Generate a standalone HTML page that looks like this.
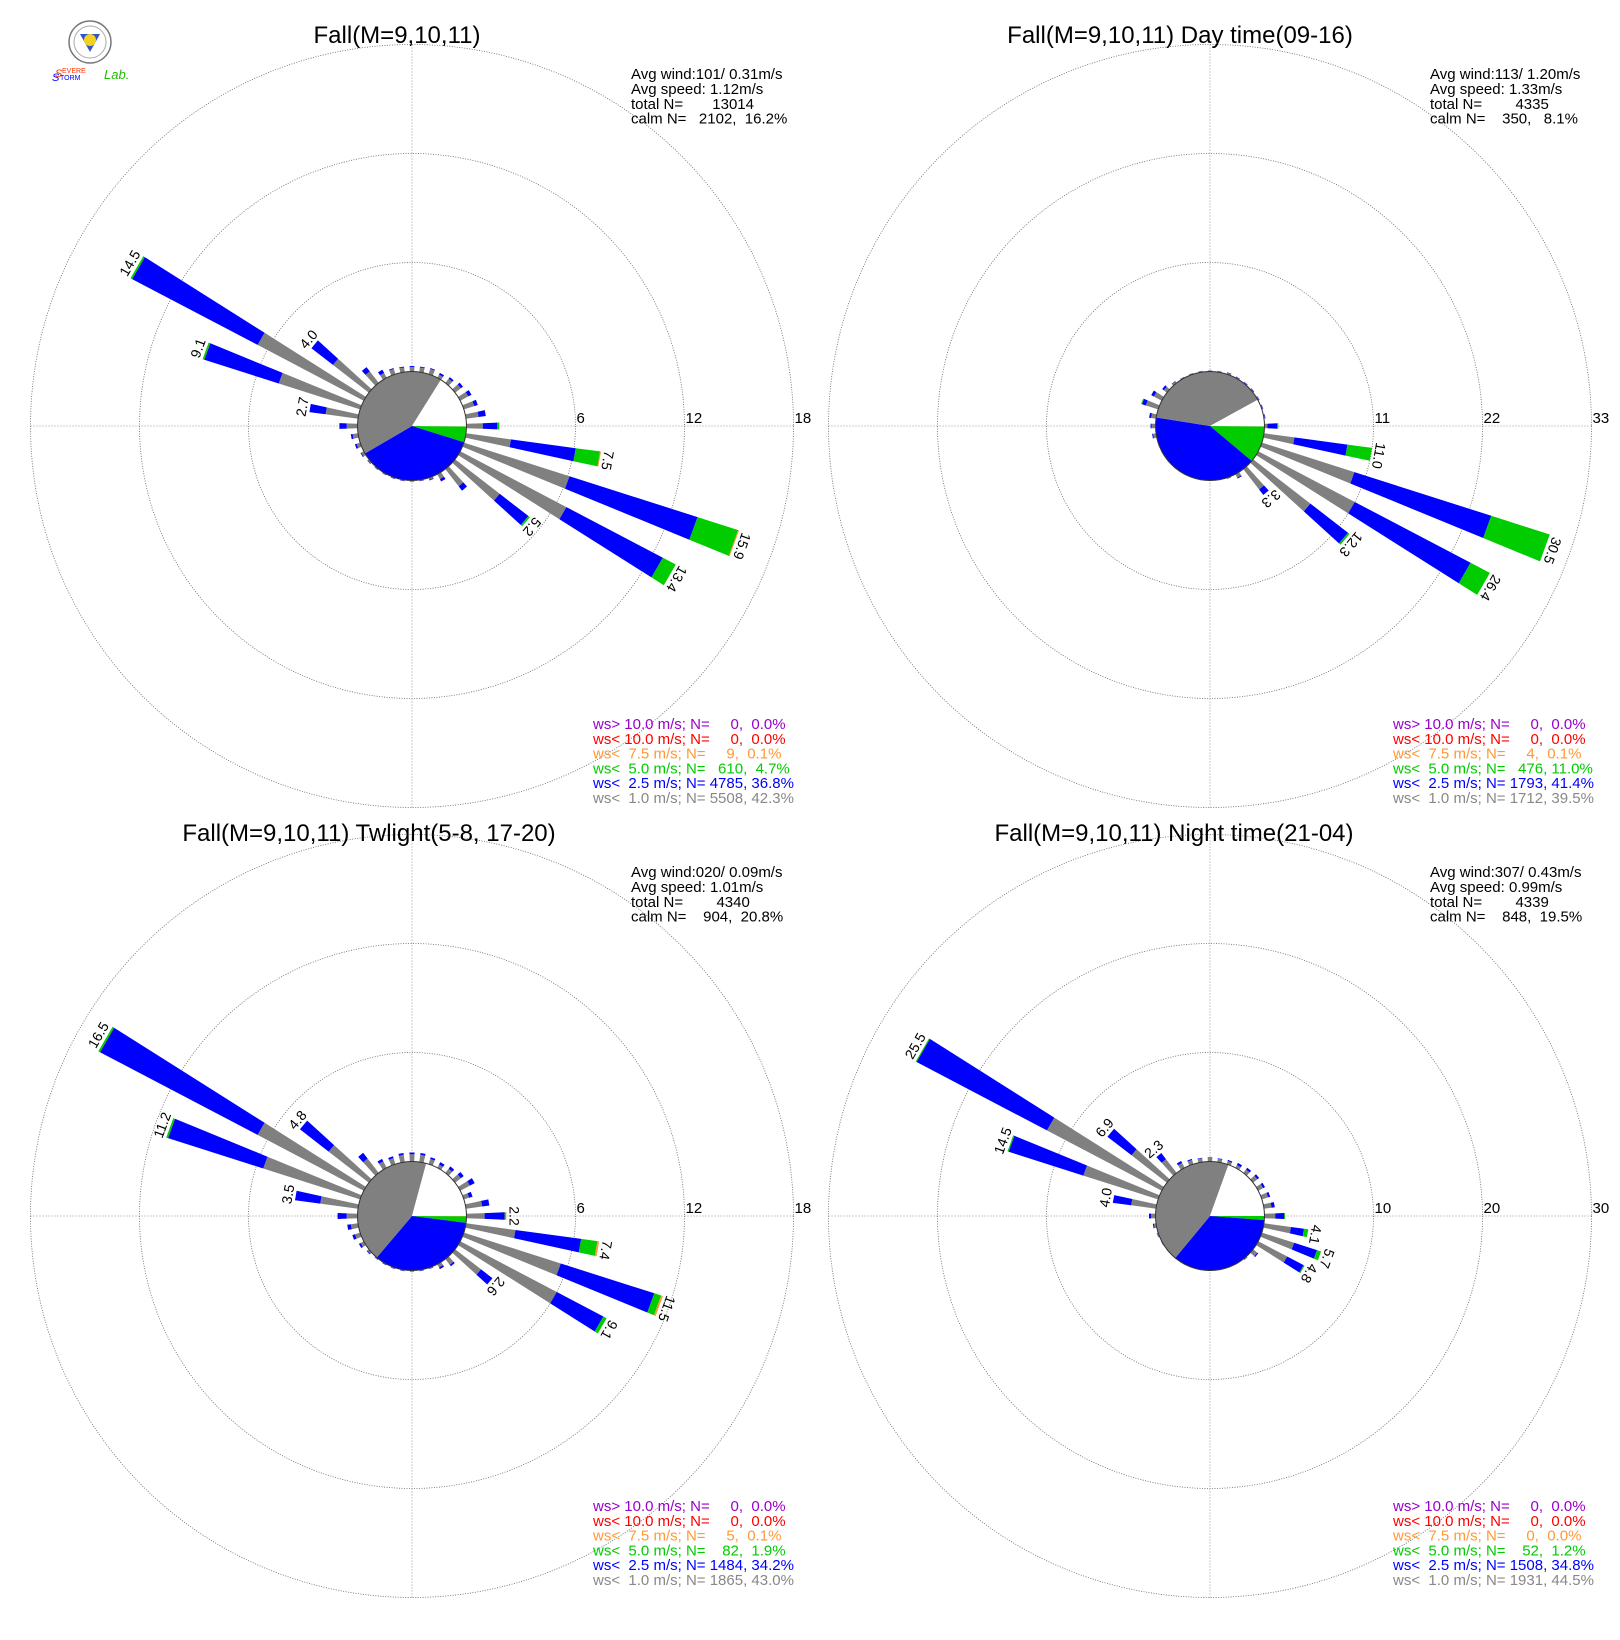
<!DOCTYPE html>
<html><head><meta charset="utf-8"><title>Wind rose</title>
<style>
html,body{margin:0;padding:0;background:#fff;}
svg{display:block;font-family:"Liberation Sans",sans-serif;}
</style></head>
<body>
<svg id="chart" width="1620" height="1640" viewBox="0 0 1620 1640" xmlns="http://www.w3.org/2000/svg">
<g>
<circle cx="90" cy="42" r="21" fill="#fff" stroke="#777" stroke-width="1.5"/>
<circle cx="90" cy="42" r="16" fill="none" stroke="#aaa" stroke-width="1"/>
<polygon points="80,34 100,34 90,52" fill="#3355cc"/>
<circle cx="90" cy="40" r="6" fill="#f4d020"/>
<text x="55" y="77" font-size="11" font-style="italic" fill="#ff3300">S</text>
<text x="52" y="81" font-size="11" font-style="italic" fill="#0000ff">S</text>
<text x="62" y="73" font-size="7" fill="#ff3300">EVERE</text>
<text x="60" y="80" font-size="7" fill="#0000ff">TORM</text>
<text x="104" y="79" font-size="13" font-style="italic" fill="#22bb00">Lab.</text>
</g>
</svg>
<script>
// ---- data: segment lengths (%) per 10-degree direction, 0..350 ----
const directions = [0,10,20,30,40,50,60,70,80,90,100,110,120,130,140,150,160,170,180,190,200,210,220,230,240,250,260,270,280,290,300,310,320,330,340,350];
const p1Gray   = [0.25,0.25,0.3,0.2,0.3,0.4,0.5,0.6,0.7,0.9,2.5,6.1,6.6,3.1,1.2,0.3,0.1,0.05,0.05,0.05,0.05,0.05,0.05,0.08,0.15,0.2,0.3,0.6,1.8,4.7,6.6,2.5,0.8,0.3,0.3,0.25];
const p1Blue   = [0.05,0.05,0.05,0.1,0.1,0.15,0.2,0.2,0.4,0.8,3.6,7.4,6.0,2.0,0.3,0.15,0.05,0.02,0.02,0.02,0.02,0.02,0.02,0.03,0.05,0.1,0.1,0.4,0.9,4.3,7.8,1.5,0.3,0.2,0.05,0.05];
const p1Green  = [0,0,0,0,0,0,0,0,0,0.1,1.35,2.35,0.8,0.1,0,0,0,0,0,0,0,0,0,0,0,0,0,0,0,0.1,0.1,0,0,0,0,0];
const p1Orange = [0,0,0,0,0,0,0,0,0,0.02,0.05,0.05,0,0,0,0,0,0,0,0,0,0,0,0,0,0,0,0,0,0,0,0,0,0,0,0];
const p2Gray   = [0.1,0.1,0.15,0.1,0.1,0.1,0.1,0.1,0.1,0.3,3.1,9.8,11.0,7.3,2.6,0.4,0.1,0.05,0.05,0.05,0.05,0.05,0.05,0.05,0.05,0.05,0.3,0.4,0.5,1.3,0.9,0.4,0.2,0.1,0.1,0.1];
const p2Blue   = [0.02,0.02,0.05,0.05,0.05,0.05,0.05,0.05,0.05,1.0,5.4,14.5,13.2,4.8,0.7,0.1,0.02,0,0,0,0,0,0,0,0,0,0.1,0.1,0.2,0.4,0.3,0.2,0.05,0.02,0.02,0.02];
const p2Green  = [0,0,0,0,0,0,0,0,0,0.1,2.5,6.2,2.2,0.2,0,0,0,0,0,0,0,0,0,0,0,0,0,0,0,0.1,0,0,0,0,0,0];
const p2Orange = [0,0,0,0,0,0,0,0,0,0,0,0,0,0,0,0,0,0,0,0,0,0,0,0,0,0,0,0,0,0,0,0,0,0,0,0];
const p3Gray   = [0.4,0.4,0.3,0.2,0.3,0.4,0.6,0.3,0.9,1.0,2.75,5.6,6.0,1.8,0.4,0.2,0.05,0.05,0.05,0.05,0.05,0.05,0.05,0.1,0.2,0.3,0.4,0.6,2.1,5.6,6.6,2.8,1.0,0.4,0.35,0.4];
const p3Blue   = [0.1,0.1,0.1,0.15,0.15,0.2,0.3,0.2,0.4,1.1,3.65,5.4,2.9,0.8,0.1,0.1,0.02,0.02,0.02,0.02,0.02,0.02,0.02,0.05,0.1,0.15,0.2,0.5,1.4,5.5,9.8,2.0,0.4,0.15,0.1,0.1];
const p3Green  = [0,0,0,0,0,0,0,0,0,0.05,0.9,0.4,0.2,0,0,0,0,0,0,0,0,0,0,0,0,0,0,0,0,0.1,0.1,0,0,0,0,0];
const p3Orange = [0,0,0,0,0,0,0,0,0,0.05,0.1,0.1,0,0,0,0,0,0,0,0,0,0,0,0,0,0,0,0,0,0,0,0,0,0,0,0];
const p4Gray   = [0.35,0.3,0.3,0.3,0.4,0.5,0.5,0.6,0.7,1.0,2.5,3.1,3.0,0.5,0.1,0.05,0.05,0.05,0.05,0.05,0.05,0.05,0.05,0.05,0.05,0.1,0.2,0.4,2.3,7.2,11.9,4.1,1.6,0.5,0.4,0.35];
const p4Blue   = [0.05,0.05,0.1,0.2,0.2,0.2,0.2,0.2,0.3,0.8,1.2,2.2,1.7,0.1,0.02,0,0,0,0,0,0,0,0,0,0.02,0.03,0.1,0.2,1.7,7.2,13.5,2.8,0.7,0.2,0.1,0.05];
const p4Green  = [0,0,0,0,0,0,0,0,0,0.1,0.4,0.4,0.1,0,0,0,0,0,0,0,0,0,0,0,0,0,0,0,0,0.1,0.1,0,0,0,0,0];
const p4Orange = [0,0,0,0,0,0,0,0,0,0,0,0,0,0,0,0,0,0,0,0,0,0,0,0,0,0,0,0,0,0,0,0,0,0,0,0];
// pie percentages: orange, green, blue, gray, calm
const p1Pie = [0.1,4.7,36.8,42.3,16.2];
const p2Pie = [0.1,11.0,41.4,39.5,8.1];
const p3Pie = [0.1,1.9,34.2,43.0,20.8];
const p4Pie = [0.0,1.2,34.8,44.5,19.5];
const p1Ticks = [6,12,18];
const p2Ticks = [11,22,33];
const p3Ticks = [6,12,18];
const p4Ticks = [10,20,30];
const p1Title = "Fall(M=9,10,11)";
const p2Title = "Fall(M=9,10,11) Day time(09-16)";
const p3Title = "Fall(M=9,10,11) Twlight(5-8, 17-20)";
const p4Title = "Fall(M=9,10,11) Night time(21-04)";
const p1Info = ["Avg wind:101/ 0.31m/s","Avg speed: 1.12m/s","total N=       13014","calm N=   2102,  16.2%"];
const p2Info = ["Avg wind:113/ 1.20m/s","Avg speed: 1.33m/s","total N=        4335","calm N=    350,   8.1%"];
const p3Info = ["Avg wind:020/ 0.09m/s","Avg speed: 1.01m/s","total N=        4340","calm N=    904,  20.8%"];
const p4Info = ["Avg wind:307/ 0.43m/s","Avg speed: 0.99m/s","total N=        4339","calm N=    848,  19.5%"];
const legendLabels = ["ws> 10.0 m/s; N=","ws< 10.0 m/s; N=","ws<  7.5 m/s; N=","ws<  5.0 m/s; N=","ws<  2.5 m/s; N=","ws<  1.0 m/s; N="];
const p1Legend = ["    0,  0.0%","    0,  0.0%","    9,  0.1%","  610,  4.7%","4785, 36.8%","5508, 42.3%"];
const p2Legend = ["    0,  0.0%","    0,  0.0%","    4,  0.1%","  476, 11.0%","1793, 41.4%","1712, 39.5%"];
const p3Legend = ["    0,  0.0%","    0,  0.0%","    5,  0.1%","   82,  1.9%","1484, 34.2%","1865, 43.0%"];
const p4Legend = ["    0,  0.0%","    0,  0.0%","    0,  0.0%","   52,  1.2%","1508, 34.8%","1931, 44.5%"];

const legendColors = ["#9900cc","#ff0000","#ff9933","#00cc00","#0000ff","#888888"];
const segColors = ["#808080","#0000ff","#00cc00","#ff9933"];
const pieColors = ["#ff9933","#00cc00","#0000ff","#808080","#ffffff"];
const NS = "http://www.w3.org/2000/svg";
const svg = document.getElementById('chart');
function mk(tag, attrs, parent){const e=document.createElementNS(NS,tag);for(const k in attrs)e.setAttribute(k,attrs[k]);(parent||svg).appendChild(e);return e;}

const panels = [
 {id:'p1',cx:412,cy:426,ticks:p1Ticks,segs:[p1Gray,p1Blue,p1Green,p1Orange],pie:p1Pie,title:p1Title,tx:397,ty:43,info:p1Info,ix:631,iy:79,legend:p1Legend,lx:593,ly:729},
 {id:'p2',cx:1210,cy:426,ticks:p2Ticks,segs:[p2Gray,p2Blue,p2Green,p2Orange],pie:p2Pie,title:p2Title,tx:1180,ty:43,info:p2Info,ix:1430,iy:79,legend:p2Legend,lx:1393,ly:729},
 {id:'p3',cx:412,cy:1216,ticks:p3Ticks,segs:[p3Gray,p3Blue,p3Green,p3Orange],pie:p3Pie,title:p3Title,tx:369,ty:841,info:p3Info,ix:631,iy:877,legend:p3Legend,lx:593,ly:1511},
 {id:'p4',cx:1210,cy:1216,ticks:p4Ticks,segs:[p4Gray,p4Blue,p4Green,p4Orange],pie:p4Pie,title:p4Title,tx:1174,ty:841,info:p4Info,ix:1430,iy:877,legend:p4Legend,lx:1393,ly:1511}
];
const R0 = 54.5, RING = 109, HALF = 2.3;

panels.forEach(function(P){
  const g = mk('g',{});
  
  
  const maxT = P.ticks[P.ticks.length-1];
  const pxPer = RING / P.ticks[0];
  function rScale(v){return R0 + v*pxPer;}
  function pt(a, r){const t=a*Math.PI/180;return [P.cx + r*Math.sin(t), P.cy - r*Math.cos(t)];}
  const outer = rScale(maxT);
  const ax1 = mk('line',{x1:P.cx-outer,y1:P.cy,x2:P.cx+outer,y2:P.cy,stroke:'#999','stroke-width':1,'stroke-dasharray':'1,2'},g);
  
  
  const ax2 = mk('line',{x1:P.cx,y1:P.cy-outer,x2:P.cx,y2:P.cy+outer,stroke:'#999','stroke-width':1,'stroke-dasharray':'1,2'},g);
  
  
  P.ticks.forEach(function(t){
    const c = mk('circle',{cx:P.cx,cy:P.cy,r:rScale(t),fill:'none',stroke:'#666','stroke-width':0.8,'stroke-dasharray':'1,1.5'},g);
    
    
    const tl = mk('text',{x:P.cx+rScale(t)+1,y:P.cy-3,'font-size':15,fill:'#000'},g);
    tl.textContent = t;
    
    
  });
  directions.forEach(function(a, i){
    let acc = 0;
    P.segs.forEach(function(arr, s){
      const v = arr[i];
      if(!(v>0)) return;
      const r1 = rScale(acc), r2 = rScale(acc+v);
      acc += v;
      const A=pt(a-HALF,r1),B=pt(a+HALF,r1),C=pt(a+HALF,r2),D=pt(a-HALF,r2);
      const poly = mk('polygon',{points:[A,B,C,D].map(p=>p[0].toFixed(1)+','+p[1].toFixed(1)).join(' '),fill:segColors[s]},g);
      
      
    });
    if(acc >= 2.0){
      const p = pt(a, rScale(acc)+3);
      const lb = mk('text',{x:p[0].toFixed(1),y:p[1].toFixed(1),'font-size':14,'text-anchor':'middle',fill:'#000',transform:'rotate('+a+' '+p[0].toFixed(1)+' '+p[1].toFixed(1)+')'},g);
      lb.textContent = (Math.round(acc*10+1e-6)/10).toFixed(1);
      
      
    }
  });
  let start = 90;
  P.pie.forEach(function(v, k){
    if(!(v>0)) return;
    const sweep = v*3.6;
    const a1=start, a2=start+sweep;
    const p1=pt(a1,R0), p2=pt(a2,R0);
    const large = sweep>180?1:0;
    const path = mk('path',{d:'M'+P.cx+','+P.cy+' L'+p1[0].toFixed(2)+','+p1[1].toFixed(2)+' A'+R0+','+R0+' 0 '+large+' 1 '+p2[0].toFixed(2)+','+p2[1].toFixed(2)+' Z',fill:pieColors[k]},g);
    
    
    start = a2;
  });
  const calm = mk('circle',{cx:P.cx,cy:P.cy,r:R0,fill:'none',stroke:'#333','stroke-width':1},g);
  
  
  const tt = mk('text',{x:P.tx,y:P.ty,'font-size':24,'text-anchor':'middle',fill:'#000'},g);
  tt.textContent = P.title;
  
  
  P.info.forEach(function(s, k){
    const it = mk('text',{x:P.ix,y:P.iy+k*14.9,'font-size':15,fill:'#000'},g);
    it.setAttribute('style','white-space:pre');
    it.textContent = s;
    
    
  });
  legendLabels.forEach(function(s, k){
    const lt = mk('text',{x:P.lx,y:P.ly+k*14.8,'font-size':15,fill:legendColors[k]},g);
    lt.setAttribute('style','white-space:pre');
    lt.textContent = s + ' ' + P.legend[k];
    
    
  });
});
</script>
</body></html>
